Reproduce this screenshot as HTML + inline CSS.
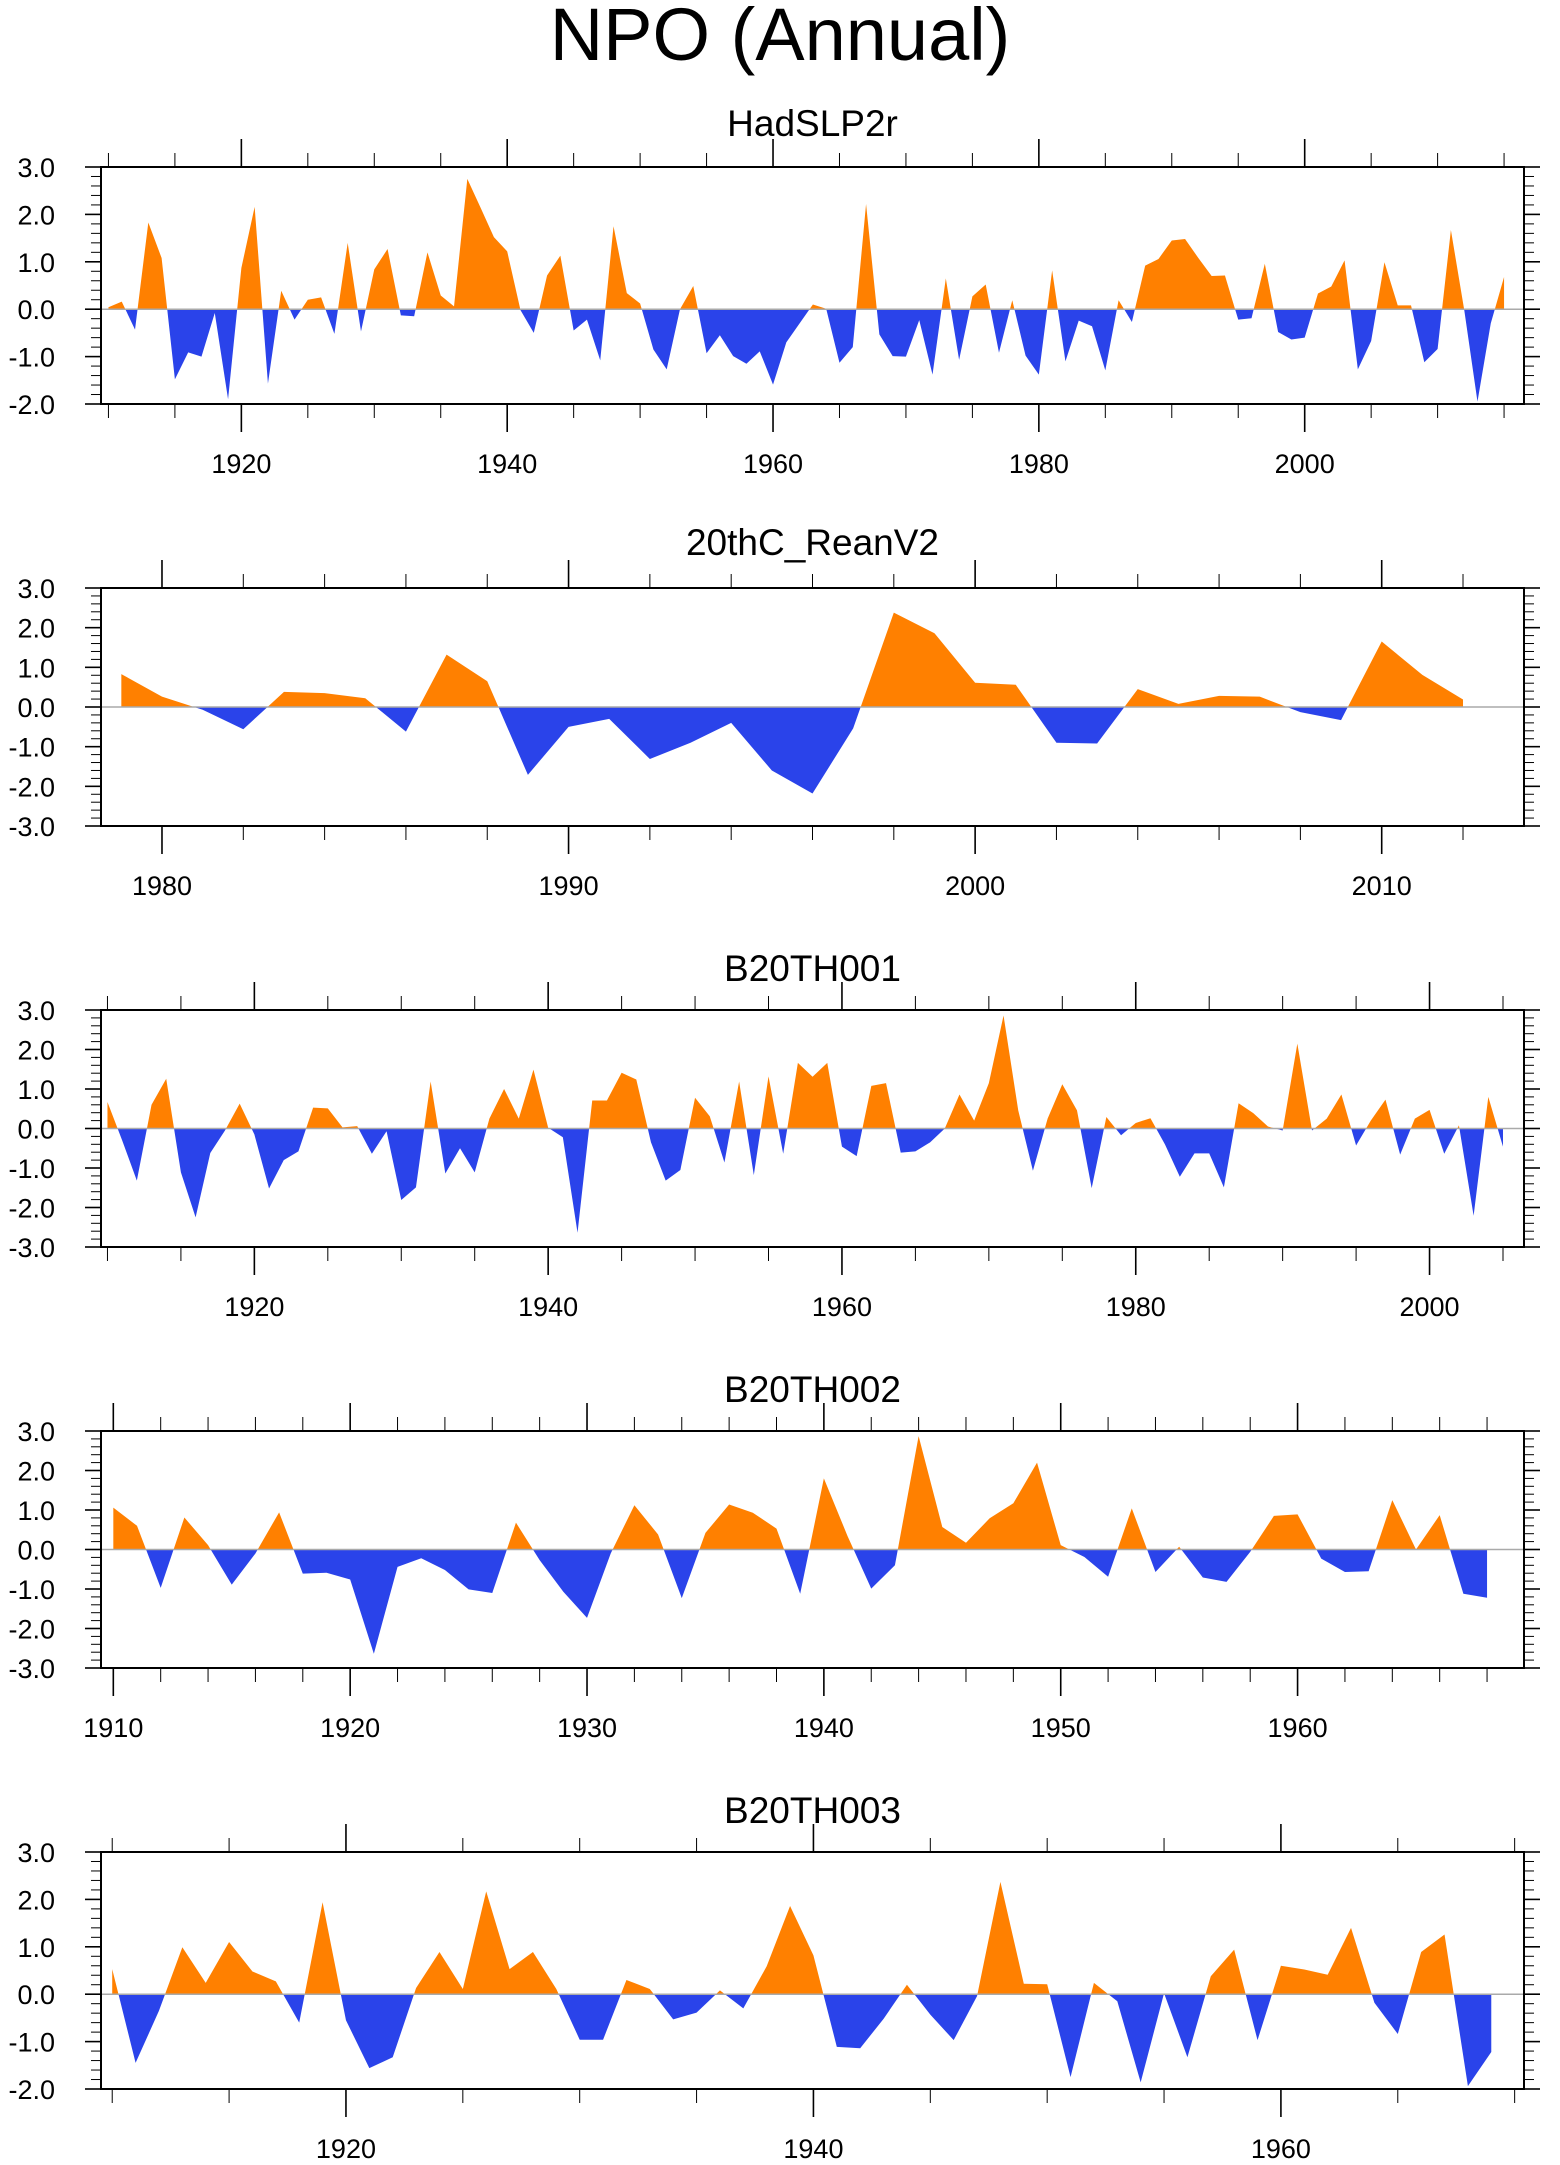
<!DOCTYPE html>
<html><head><meta charset="utf-8"><style>
html,body{margin:0;padding:0;background:#fff;}
svg{display:block;font-family:"Liberation Sans",Arial,sans-serif;}
</style></head><body>
<svg id="chart" width="1560" height="2165" viewBox="0 0 1560 2165" xmlns="http://www.w3.org/2000/svg">
<text x="780" y="60" font-size="74" text-anchor="middle" fill="#000">NPO (Annual)</text>
</svg>
<script>
const hadYearStart = 1910;
const hadValues = [0.04,0.16,-0.43,1.83,1.08,-1.48,-0.91,-1.0,-0.08,-1.9,0.87,2.16,-1.57,0.39,-0.22,0.2,0.25,-0.52,1.4,-0.47,0.84,1.27,-0.13,-0.15,1.2,0.29,0.06,2.75,2.14,1.52,1.22,-0.02,-0.5,0.71,1.13,-0.45,-0.22,-1.08,1.75,0.34,0.12,-0.85,-1.27,0.0,0.49,-0.93,-0.55,-0.99,-1.15,-0.89,-1.59,-0.7,-0.3,0.1,0.01,-1.13,-0.8,2.22,-0.53,-0.99,-1.0,-0.23,-1.38,0.65,-1.07,0.27,0.52,-0.92,0.19,-0.98,-1.38,0.82,-1.1,-0.24,-0.36,-1.29,0.19,-0.27,0.92,1.06,1.45,1.48,1.08,0.7,0.71,-0.22,-0.19,0.96,-0.48,-0.64,-0.6,0.33,0.48,1.03,-1.27,-0.67,0.99,0.08,0.08,-1.12,-0.84,1.67,-0.01,-1.95,-0.3,0.68];
const reanYearStart = 1979;
const reanValues = [0.83,0.26,-0.07,-0.56,0.38,0.35,0.22,-0.62,1.32,0.65,-1.71,-0.5,-0.3,-1.31,-0.9,-0.4,-1.6,-2.18,-0.54,2.38,1.86,0.61,0.56,-0.9,-0.92,0.45,0.08,0.28,0.26,-0.13,-0.33,1.65,0.81,0.19];
const b1YearStart = 1910;
const b1Values = [0.67,-0.3,-1.32,0.6,1.26,-1.11,-2.25,-0.62,-0.05,0.63,-0.15,-1.52,-0.8,-0.58,0.53,0.51,0.03,0.06,-0.64,-0.07,-1.81,-1.49,1.19,-1.14,-0.5,-1.11,0.25,1.0,0.25,1.49,0.02,-0.22,-2.64,0.71,0.71,1.41,1.24,-0.35,-1.32,-1.05,0.78,0.31,-0.86,1.19,-1.18,1.32,-0.64,1.66,1.31,1.66,-0.46,-0.7,1.08,1.15,-0.61,-0.58,-0.35,0.0,0.86,0.2,1.15,2.86,0.46,-1.07,0.25,1.12,0.46,-1.51,0.29,-0.17,0.14,0.26,-0.41,-1.22,-0.63,-0.63,-1.49,0.64,0.39,0.05,-0.05,2.15,-0.05,0.25,0.86,-0.43,0.2,0.73,-0.66,0.25,0.47,-0.64,0.08,-2.21,0.8,-0.46];
const b2YearStart = 1910;
const b2Values = [1.06,0.6,-0.97,0.81,0.11,-0.89,-0.1,0.94,-0.61,-0.59,-0.76,-2.64,-0.44,-0.22,-0.52,-1.01,-1.1,0.68,-0.27,-1.07,-1.73,-0.1,1.12,0.38,-1.23,0.42,1.14,0.93,0.53,-1.12,1.8,0.34,-0.99,-0.4,2.87,0.57,0.17,0.79,1.17,2.2,0.11,-0.19,-0.69,1.04,-0.57,0.07,-0.71,-0.82,-0.06,0.85,0.89,-0.23,-0.57,-0.55,1.25,0.0,0.87,-1.12,-1.22];
const b3YearStart = 1910;
const b3Values = [0.53,-1.45,-0.35,0.99,0.24,1.1,0.48,0.27,-0.6,1.94,-0.55,-1.56,-1.33,0.13,0.89,0.11,2.17,0.53,0.89,0.11,-0.96,-0.96,0.3,0.11,-0.53,-0.39,0.08,-0.3,0.59,1.86,0.82,-1.11,-1.14,-0.52,0.2,-0.43,-0.97,-0.04,2.37,0.22,0.21,-1.75,0.24,-0.15,-1.86,0.02,-1.33,0.38,0.94,-0.97,0.6,0.52,0.41,1.4,-0.18,-0.84,0.89,1.26,-1.94,-1.22];

const NS = "http://www.w3.org/2000/svg";
const svg = document.getElementById('chart');
function mk(tag, attrs, parent){
  const e = document.createElementNS(NS, tag);
  for (const k in attrs) e.setAttribute(k, attrs[k]);
  (parent||svg).appendChild(e);
  return e;
}
const L = 101, R = 1524;
const panels = [
  {id:'hadslp2r', title:'HadSLP2r', top:167, bot:404, y0:-2, y1:3, x0:1909.44, x1:2016.5, start:hadYearStart, vals:hadValues, major:20, minor:5, lab0:1920, labEnd:2000, titleY:136},
  {id:'20thc-reanv2', title:'20thC_ReanV2', top:588, bot:826, y0:-3, y1:3, x0:1978.5, x1:2013.5, start:reanYearStart, vals:reanValues, major:10, minor:2, lab0:1980, labEnd:2010, titleY:555},
  {id:'b20th001', title:'B20TH001', top:1010, bot:1247, y0:-3, y1:3, x0:1909.56, x1:2006.43, start:b1YearStart, vals:b1Values, major:20, minor:5, lab0:1920, labEnd:2000, titleY:981},
  {id:'b20th002', title:'B20TH002', top:1431, bot:1668, y0:-3, y1:3, x0:1909.48, x1:1969.56, start:b2YearStart, vals:b2Values, major:10, minor:2, lab0:1910, labEnd:1960, titleY:1402},
  {id:'b20th003', title:'B20TH003', top:1852, bot:2089, y0:-2, y1:3, x0:1909.52, x1:1970.4, start:b3YearStart, vals:b3Values, major:20, minor:5, lab0:1920, labEnd:1960, titleY:1823}
];
panels.forEach((p, pi) => {
  const g = mk('g', {});
  
  
  const xs = v => L + (v - p.x0) / (p.x1 - p.x0) * (R - L);
  const ys = v => p.bot - (v - p.y0) / (p.y1 - p.y0) * (p.bot - p.top);
  const zy = ys(0);
  const t = mk('text', {x:(L+R)/2, y:p.titleY, 'font-size':37, 'text-anchor':'middle', fill:'#000'}, g);
  
  
  t.textContent = p.title;
  const defs = mk('defs', {}, g);
  const cpA = mk('clipPath', {id:'ca'+pi}, defs);
  mk('rect', {x:L, y:p.top, width:R-L, height:zy-p.top}, cpA);
  const cpB = mk('clipPath', {id:'cb'+pi}, defs);
  mk('rect', {x:L, y:zy, width:R-L, height:p.bot-zy}, cpB);
  let d = 'M' + xs(p.start) + ',' + zy;
  p.vals.forEach((v, i) => { d += ' L' + xs(p.start + i) + ',' + ys(v); });
  d += ' L' + xs(p.start + p.vals.length - 1) + ',' + zy + ' Z';
  const pos = mk('path', {d:d, fill:'#ff8000', 'clip-path':'url(#ca'+pi+')'}, g);
  
  
  const neg = mk('path', {d:d, fill:'#2a43ea', 'clip-path':'url(#cb'+pi+')'}, g);
  
  
  const zl = mk('line', {x1:L, x2:R, y1:zy, y2:zy, stroke:'#aaa', 'stroke-width':1.5}, g);
  
  
  const fr = mk('rect', {x:L, y:p.top, width:R-L, height:p.bot-p.top, fill:'none', stroke:'#000', 'stroke-width':2}, g);
  
  
  for (let k = Math.round(p.y0*5); k <= Math.round(p.y1*5); k++) {
    const v = k/5, yy = ys(v), maj = (k % 5 === 0);
    const len = maj ? 16 : 10;
    mk('line', {x1:L-len, x2:L, y1:yy, y2:yy, stroke:'#000', 'stroke-width':maj?1.6:1}, g);
    mk('line', {x1:R, x2:R+len, y1:yy, y2:yy, stroke:'#000', 'stroke-width':maj?1.6:1}, g);
    if (maj) {
      const yl = mk('text', {x:55, y:yy+10, 'font-size':27, 'text-anchor':'end', fill:'#000'}, g);
      
      
      yl.textContent = v.toFixed(1);
    }
  }
  const firstMinor = Math.ceil(p.x0 / p.minor) * p.minor;
  for (let yr = firstMinor; yr <= p.x1; yr += p.minor) {
    const xx = xs(yr), maj = (yr % p.major === 0);
    const len = maj ? 28 : 14;
    mk('line', {x1:xx, x2:xx, y1:p.top-len, y2:p.top, stroke:'#000', 'stroke-width':maj?1.6:1}, g);
    mk('line', {x1:xx, x2:xx, y1:p.bot, y2:p.bot+len, stroke:'#000', 'stroke-width':maj?1.6:1}, g);
  }
  for (let yr = p.lab0; yr <= p.labEnd; yr += p.major) {
    const xl = mk('text', {x:xs(yr), y:p.bot+69, 'font-size':27, 'text-anchor':'middle', fill:'#000'}, g);
    
    
    xl.textContent = yr;
  }
});
</script>
</body></html>
